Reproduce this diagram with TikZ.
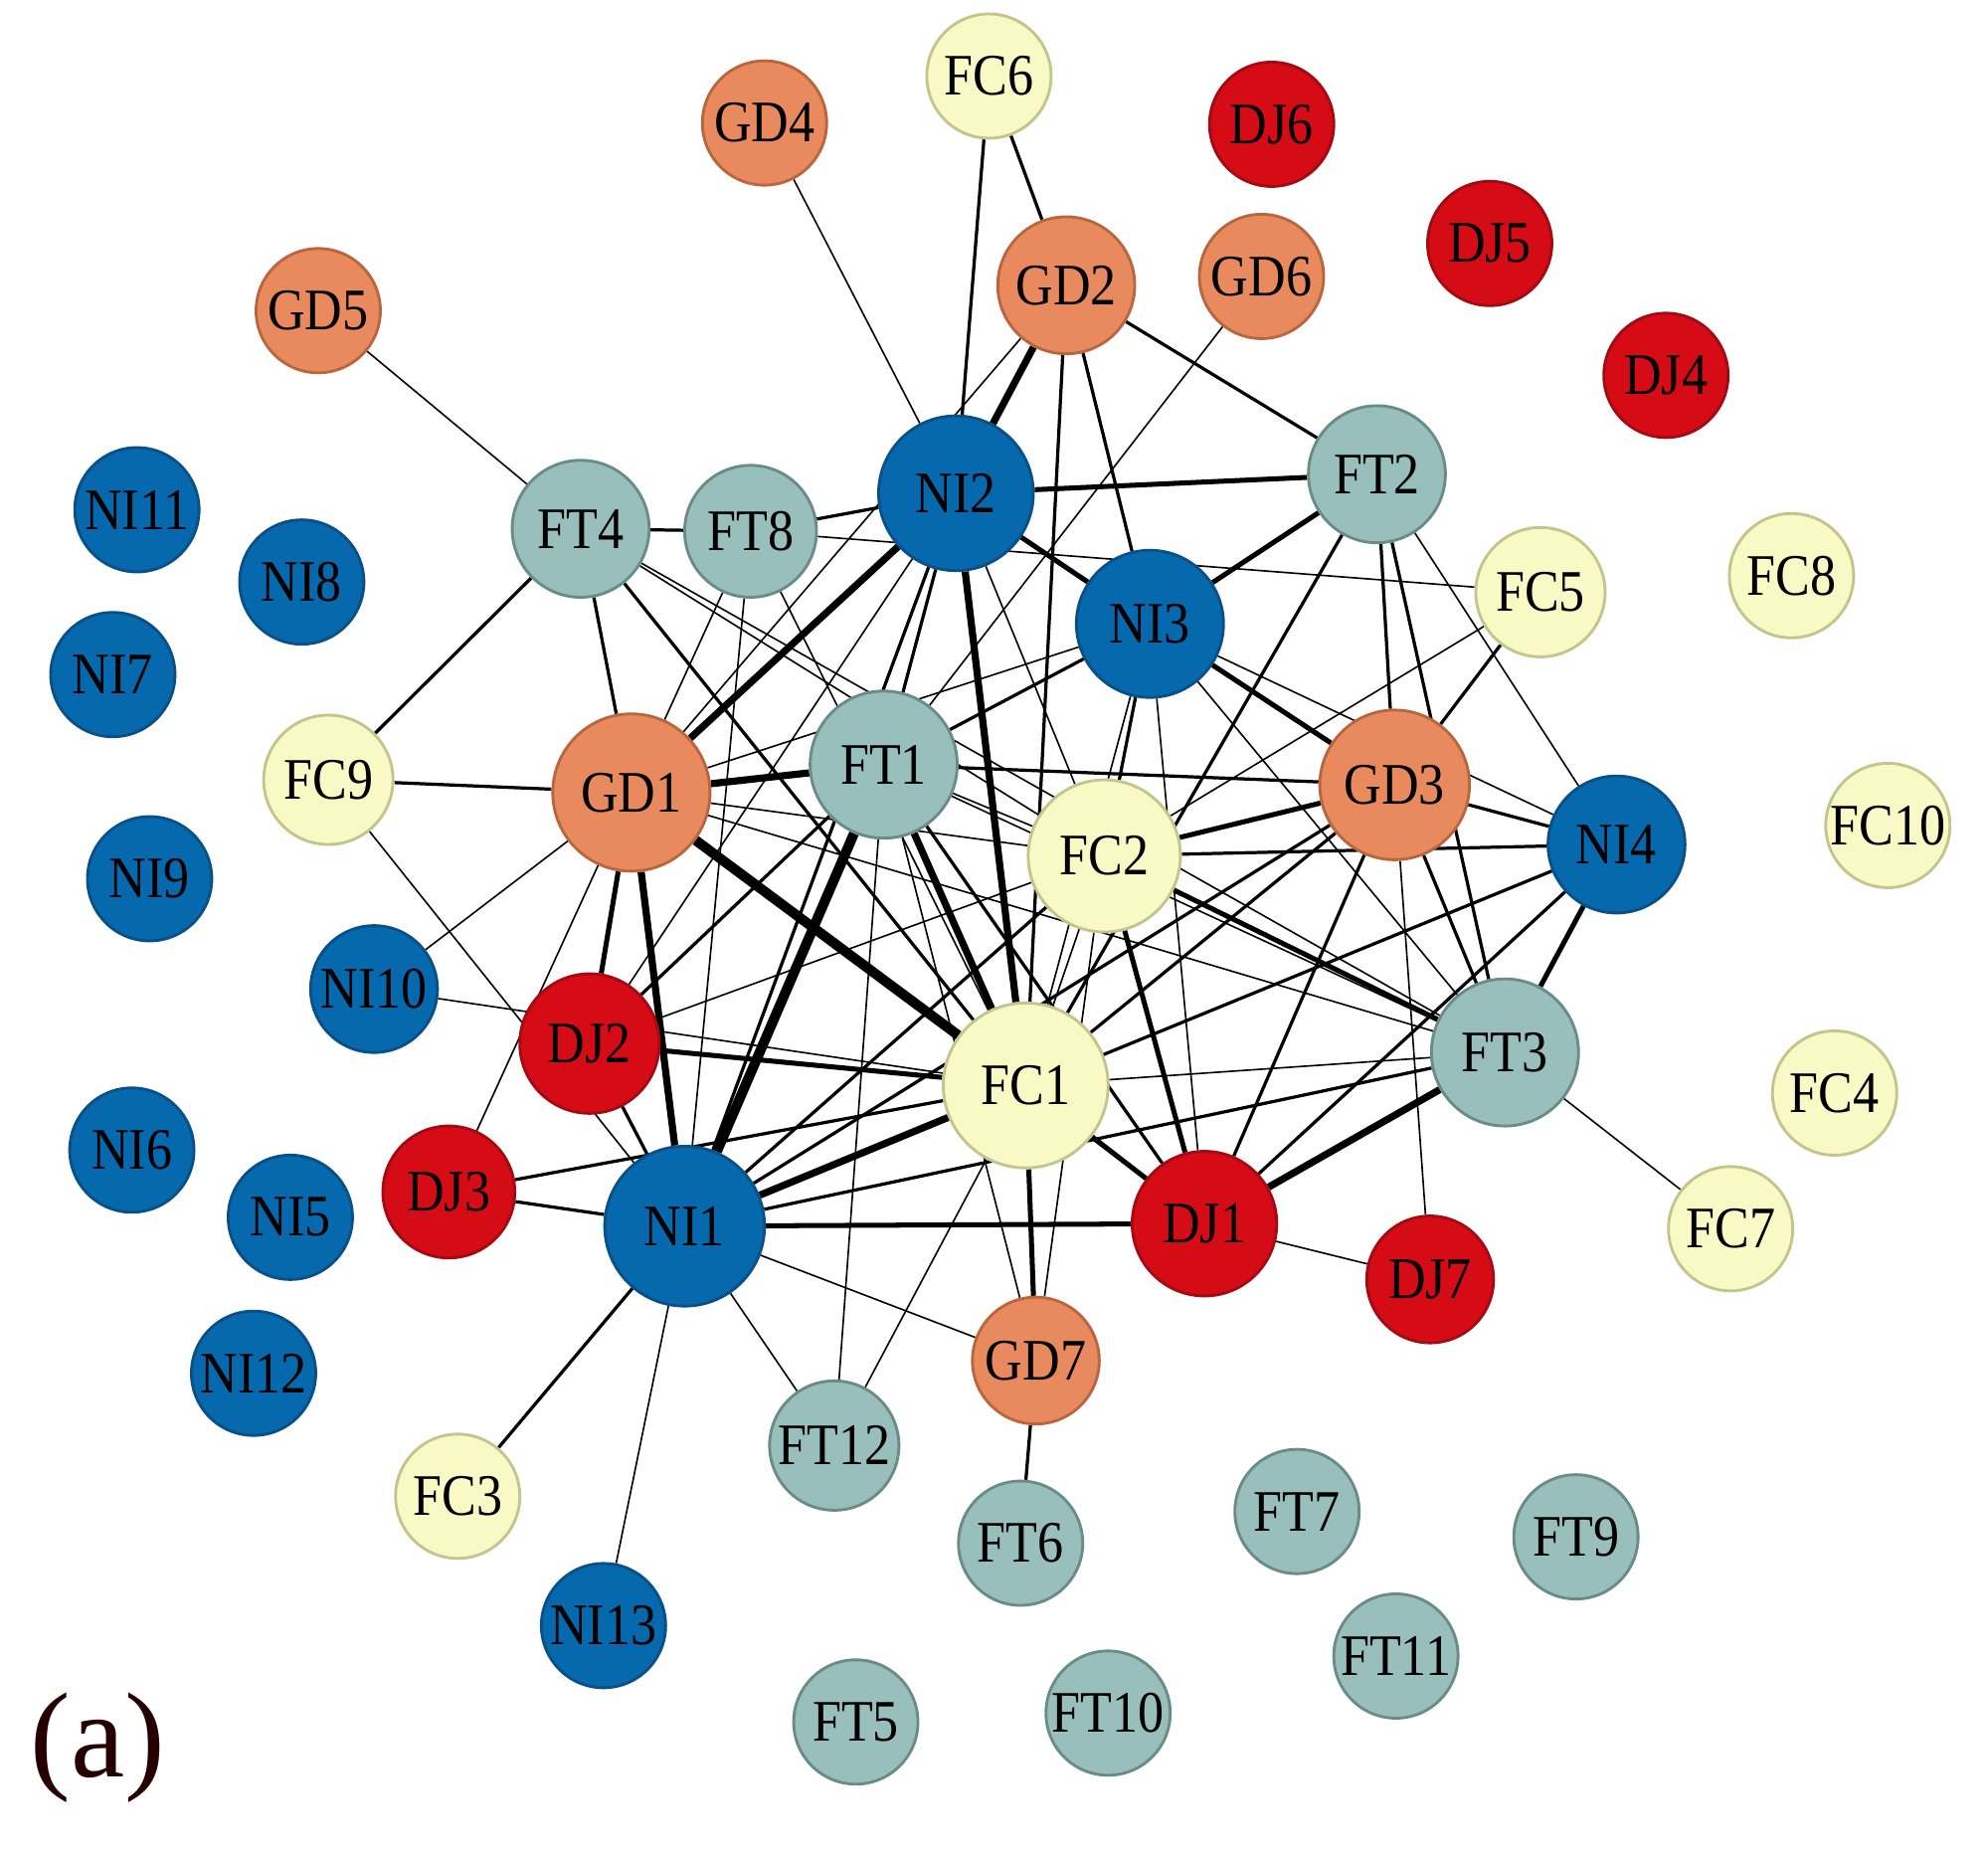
\documentclass[tikz,border=0pt]{standalone}
\usepackage{fontspec}
\setmainfont{Liberation Serif}
\newfontfamily\nodefont{Liberation Serif}[FakeStretch=0.88]
\usepackage{xcolor}
\usepackage{tikz}
\usetikzlibrary{positioning}
\pgfdeclarelayer{bg}
\pgfsetlayers{bg,main}
\definecolor{niblue}{RGB}{6,105,173}
\definecolor{niline}{RGB}{10,80,135}
\definecolor{ftgrey}{RGB}{152,191,187}
\definecolor{ftline}{RGB}{105,140,136}
\definecolor{gdorange}{RGB}{233,138,94}
\definecolor{gdline}{RGB}{185,102,62}
\definecolor{djred}{RGB}{213,11,22}
\definecolor{djline}{RGB}{165,10,18}
\definecolor{fcyellow}{RGB}{249,249,198}
\definecolor{fcline}{RGB}{196,196,140}

\begin{document}
\begin{tikzpicture}[x=0.0125cm,y=-0.0125cm,
    every node/.style={circle,inner sep=0pt,line width=0.8pt,font=\nodefont\fontsize{16.5}{18}\selectfont},
    ni/.style={draw=niline,fill=niblue,minimum size=#1}, ni/.default=1.225cm,
    ft/.style={draw=ftline,fill=ftgrey,minimum size=#1}, ft/.default=1.225cm,
    gd/.style={draw=gdline,fill=gdorange,minimum size=#1}, gd/.default=1.225cm,
    dj/.style={draw=djline,fill=djred,minimum size=#1}, dj/.default=1.225cm,
    fc/.style={draw=fcline,fill=fcyellow,minimum size=#1}, fc/.default=1.225cm,
    e1/.style={line width=0.45pt},
    e2/.style={line width=0.9pt},
    e3/.style={line width=1.4pt},
    e4/.style={line width=2pt},
    e5/.style={line width=2.8pt}]
    \useasboundingbox (0,0) rectangle (1568,1461);
    % nodes
    \node[fc]         (FC6)  at (780,60)    {FC6};
    \node[gd]         (GD4)  at (603,97)    {GD4};
    \node[dj]         (DJ6)  at (1003,98)   {DJ6};
    \node[dj]         (DJ5)  at (1175,192)  {DJ5};
    \node[gd=1.35cm]  (GD2)  at (841,225)   {GD2};
    \node[gd]         (GD6)  at (995,218)   {GD6};
    \node[gd]         (GD5)  at (251,245)   {GD5};
    \node[dj]         (DJ4)  at (1314,296)  {DJ4};
    \node[ft=1.35cm]  (FT2)  at (1086,374)  {FT2};
    \node[ni=1.525cm] (NI2)  at (754,389)   {NI2};
    \node[ni]         (NI11) at (108,402)   {NI11};
    \node[ft=1.35cm]  (FT4)  at (458,417)   {FT4};
    \node[ft=1.3cm]   (FT8)  at (592,419)   {FT8};
    \node[fc]         (FC8)  at (1413,454)  {FC8};
    \node[ni]         (NI8)  at (238,459)   {NI8};
    \node[fc=1.275cm] (FC5)  at (1215,467)  {FC5};
    \node[ni=1.45cm]  (NI3)  at (907,492)   {NI3};
    \node[ni]         (NI7)  at (89,532)    {NI7};
    \node[ft=1.45cm]  (FT1)  at (697,603)   {FT1};
    \node[fc=1.275cm] (FC9)  at (259,615)   {FC9};
    \node[gd=1.55cm]  (GD1)  at (498,625)   {GD1};
    \node[gd=1.475cm] (GD3)  at (1100,619)  {GD3};
    \node[fc=1.5cm]   (FC2)  at (871,675)   {FC2};
    \node[ni=1.35cm]  (NI4)  at (1275,666)  {NI4};
    \node[fc]         (FC10) at (1489,651)  {FC10};
    \node[ni]         (NI9)  at (118,693)   {NI9};
    \node[ni=1.25cm]  (NI10) at (295,780)   {NI10};
    \node[dj=1.375cm] (DJ2)  at (465,823)   {DJ2};
    \node[ft=1.45cm]  (FT3)  at (1187,830)  {FT3};
    \node[fc=1.625cm] (FC1)  at (809,856)   {FC1};
    \node[fc]         (FC4)  at (1447,862)  {FC4};
    \node[ni]         (NI6)  at (104,907)   {NI6};
    \node[dj=1.3cm]   (DJ3)  at (354,940)   {DJ3};
    \node[ni]         (NI5)  at (229,960)   {NI5};
    \node[ni=1.575cm] (NI1)  at (540,967)   {NI1};
    \node[dj=1.425cm] (DJ1)  at (950,965)   {DJ1};
    \node[dj=1.25cm]  (DJ7)  at (1128,1009) {DJ7};
    \node[fc]         (FC7)  at (1365,969)  {FC7};
    \node[gd=1.25cm]  (GD7)  at (817,1073)  {GD7};
    \node[ni]         (NI12) at (200,1083)  {NI12};
    \node[ft=1.275cm] (FT12) at (658,1140)  {FT12};
    \node[fc]         (FC3)  at (361,1180)  {FC3};
    \node[ft]         (FT6)  at (805,1217)  {FT6};
    \node[ft]         (FT7)  at (1023,1192) {FT7};
    \node[ft]         (FT9)  at (1243,1212) {FT9};
    \node[ni]         (NI13) at (476,1282)  {NI13};
    \node[ft]         (FT11) at (1101,1306) {FT11};
    \node[ft]         (FT10) at (874,1351)  {FT10};
    \node[ft]         (FT5)  at (675,1358)  {FT5};
    \node[rectangle,text=black!85!red,font=\rmfamily\fontsize{34}{36}\selectfont] (lbl) at (77,1378) {(a)};
    % links
    \begin{pgfonlayer}{bg}
    \path[-]
    (FC6) edge [e2] (NI2)
    (FC6) edge [e2] (GD2)
    (GD4) edge [e1] (NI2)
    (GD5) edge [e1] (FT4)
    (GD2) edge [e4] (NI2)
    (GD2) edge [e1] (GD1)
    (GD2) edge [e2] (FT2)
    (GD2) edge [e2] (FC1)
    (GD2) edge [e2] (NI3)
    (GD6) edge [e1] (FT1)
    (NI2) edge [e3] (FT2)
    (NI2) edge [e3] (NI3)
    (NI2) edge [e2] (FT8)
    (FT8) edge [e2] (FT4)
    (FT8) edge [e1] (FC5)
    (NI2) edge [e4] (GD1)
    (NI2) edge [e2] (FT1)
    (NI2) edge [e2] (NI1)
    (NI2) edge [e4] (FC1)
    (NI2) edge [e1] (FC2)
    (NI2) edge [e1] (DJ2)
    (NI2) edge [e1] (GD3)
    (FT2) edge [e3] (NI3)
    (FT2) edge [e2] (GD3)
    (FT2) edge [e2] (FT3)
    (FT2) edge [e1] (NI4)
    (FT2) edge [e2] (FC1)
    (FT4) edge [e2] (GD1)
    (FT4) edge [e2] (FC9)
    (FT4) edge [e2] (FC1)
    (FT4) edge [e1] (FC2)
    (FT4) edge [e1] (FT3)
    (FT8) edge [e1] (GD1)
    (FT8) edge [e1] (NI1)
    (FT8) edge [e1] (FC1)
    (FC9) edge [e2] (GD1)
    (FC9) edge [e1] (NI1)
    (GD1) edge [e4] (FT1)
    (GD1) edge [e5] (FC1)
    (GD1) edge [e4] (NI1)
    (GD1) edge [e3] (DJ2)
    (GD1) edge [e1] (DJ3)
    (GD1) edge [e1] (NI10)
    (GD1) edge [e1] (NI3)
    (GD1) edge [e1] (FC2)
    (GD1) edge [e1] (FT3)
    (GD1) edge [e1] (DJ1)
    (FT1) edge [e4] (FC1)
    (FT1) edge [e5] (NI1)
    (FT1) edge [e2] (DJ2)
    (FT1) edge [e2] (NI3)
    (FT1) edge [e2] (GD3)
    (FT1) edge [e1] (FC2)
    (FT1) edge [e1] (FT3)
    (FT1) edge [e1] (FT12)
    (FT1) edge [e2] (DJ1)
    (FT1) edge [e1] (GD7)
    (NI3) edge [e3] (GD3)
    (NI3) edge [e2] (FC2)
    (NI3) edge [e1] (FC1)
    (NI3) edge [e1] (DJ1)
    (NI3) edge [e1] (FT3)
    (NI3) edge [e1] (NI4)
    (GD3) edge [e3] (FC2)
    (GD3) edge [e2] (NI4)
    (GD3) edge [e2] (FC5)
    (GD3) edge [e2] (FT3)
    (GD3) edge [e2] (DJ1)
    (GD3) edge [e1] (DJ7)
    (GD3) edge [e2] (FC1)
    (GD3) edge [e2] (NI1)
    (FC2) edge [e2] (NI4)
    (FC2) edge [e3] (FT3)
    (FC2) edge [e3] (DJ1)
    (FC2) edge [e1] (FC1)
    (FC2) edge [e1] (FC5)
    (FC2) edge [e1] (GD7)
    (FC2) edge [e1] (DJ2)
    (FC2) edge [e2] (NI1)
    (NI4) edge [e3] (FT3)
    (NI4) edge [e2] (DJ1)
    (NI4) edge [e2] (NI1)
    (FT3) edge [e4] (DJ1)
    (FT3) edge [e1] (FC1)
    (FT3) edge [e2] (NI1)
    (FT3) edge [e1] (FC7)
    (FC1) edge [e3] (DJ2)
    (FC1) edge [e2] (DJ3)
    (FC1) edge [e1] (NI10)
    (FC1) edge [e4] (NI1)
    (FC1) edge [e3] (DJ1)
    (FC1) edge [e3] (GD7)
    (FC1) edge [e1] (FT12)
    (DJ2) edge [e2] (NI1)
    (DJ3) edge [e2] (NI1)
    (NI1) edge [e3] (DJ1)
    (NI1) edge [e1] (GD7)
    (NI1) edge [e1] (FT12)
    (NI1) edge [e2] (FC3)
    (NI1) edge [e1] (NI13)
    (GD7) edge [e2] (FT6)
    (DJ1) edge [e1] (DJ7);
    \end{pgfonlayer}
\end{tikzpicture}
\end{document}
